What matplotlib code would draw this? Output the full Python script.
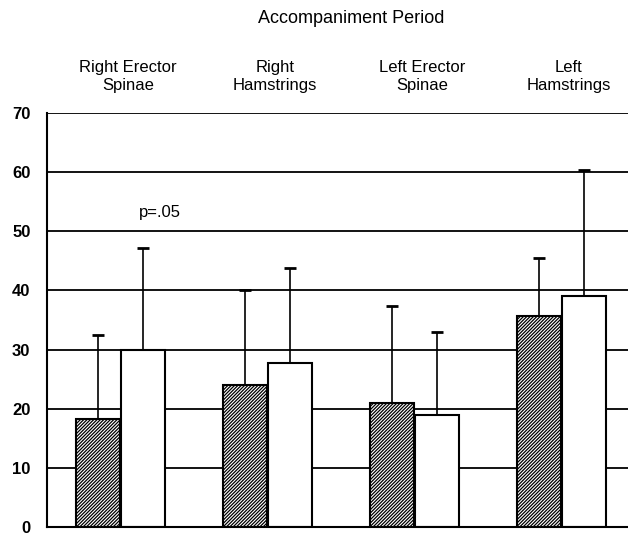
import matplotlib.pyplot as plt
import numpy as np

plt.rcParams['font.family'] = ['Liberation Sans', 'DejaVu Sans']
plt.rcParams['hatch.linewidth'] = 0.9

groups = ['Right Erector\nSpinae', 'Right\nHamstrings', 'Left Erector\nSpinae', 'Left\nHamstrings']
hatched_means = [18.2, 24.0, 21.0, 35.6]
hatched_err = [14.3, 16.1, 16.4, 9.8]
white_means = [30.0, 27.8, 19.0, 39.0]
white_err = [17.2, 15.9, 14.0, 21.3]
yticks = [0, 10, 20, 30, 40, 50, 60, 70]

fig = plt.figure(figsize=(6.28, 5.35), dpi=100)
ax = fig.add_axes([0.075, 0.015, 0.936, 0.774])

x = np.arange(len(groups))
w = 0.3
off = 0.153

# gridlines behind the bars
for t in yticks[1:]:
    ax.axhline(t, color='black', lw=1.3, zorder=0)

ax.bar(x - off, hatched_means, w, color='white', edgecolor='black', hatch='//////////', lw=1.5, zorder=2)
ax.bar(x + off, white_means, w, color='white', edgecolor='black', lw=1.5, zorder=2)

# upper error bars only, cap on top
err_kw = dict(fmt='none', ecolor='black', elinewidth=1.2, capsize=4, capthick=2, zorder=3)
for xs, m, e in [(x - off, hatched_means, hatched_err), (x + off, white_means, white_err)]:
    eb = ax.errorbar(xs, m, yerr=[np.zeros(4), e], **err_kw)
    eb[1][0].set_visible(False)

ax.set_xlim(-0.5, 3.5)
ax.set_ylim(0, 70)
ax.set_yticks(yticks)
ax.set_yticklabels([str(t) for t in yticks], fontsize=12, fontweight='bold')
ax.tick_params(axis='y', length=0, pad=12)
ax.set_xticks([])
for s in ['left', 'bottom']:
    ax.spines[s].set_linewidth(1.5)
ax.spines['top'].set_visible(False)
ax.spines['right'].set_visible(False)

ax.text(0.27, 53.1, 'p=.05', fontsize=12, ha='center', va='center')

for i, g in enumerate(groups):
    ax.text(i + 0.05, 76.1, g, fontsize=12, ha='center', va='center', linespacing=1.25)

fig.text(0.56, 0.966, 'Accompaniment Period', fontsize=13, ha='center', va='center')

fig.savefig('out.png', dpi=100)
